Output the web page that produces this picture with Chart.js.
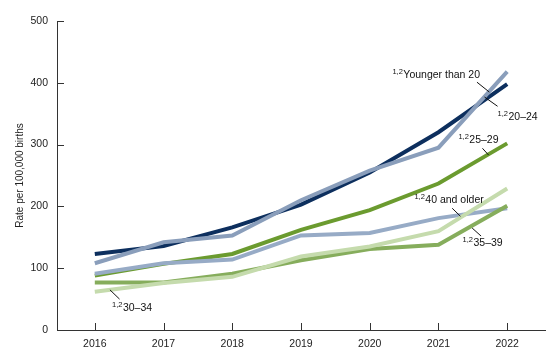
<!DOCTYPE html>
<html>
<head>
<meta charset="utf-8">
<script src="https://cdn.jsdelivr.net/npm/chart.js@4"></script>
<style>
  html, body { margin: 0; padding: 0; background: #fff; }
  #wrap { width: 560px; height: 362px; }
</style>
</head>
<body>
<div id="wrap"><canvas id="chart"></canvas></div>
<script>
const years = [2016, 2017, 2018, 2019, 2020, 2021, 2022];
const yTicks = [0, 100, 200, 300, 400, 500];

const under20 = [108, 142, 153, 210, 258, 295, 418];
const age20to24 = [123, 136, 166, 203, 255, 320, 398];
const age25to29 = [88, 107, 123, 162, 194, 237, 302];
const age30to34 = [62, 76, 86, 119, 135, 160, 229];
const age35to39 = [77, 77, 91, 113, 131, 138, 201];
const age40plus = [91, 108, 114, 153, 157, 181, 197];

// label anchors in data units (year, rate)
const notes = [
  { text: 'Younger than 20', x: 2020.33, y: 412, line: [2021.56, 401, 2021.74, 385] },
  { text: '20\u201324', x: 2021.86, y: 345, line: [2021.67, 377, 2021.86, 362] },
  { text: '25\u201329', x: 2021.29, y: 307, line: [2021.64, 294, 2021.73, 283] },
  { text: '40 and older', x: 2020.65, y: 210, line: [2021.20, 197, 2021.32, 184] },
  { text: '35\u201339', x: 2021.35, y: 141, line: [2021.49, 165, 2021.62, 152] },
  { text: '30\u201334', x: 2016.25, y: 36, line: [2016.22, 65, 2016.36, 50] }
];

const font = 'Arial, "Liberation Sans", sans-serif';

function series(label, data, color) {
  return {
    label: label,
    data: data.map((v, i) => ({ x: years[i], y: v })),
    borderColor: color,
    backgroundColor: color,
    borderWidth: 4,
    pointRadius: 0,
    tension: 0,
    fill: false
  };
}

const extras = {
  id: 'extras',
  afterDraw(chart) {
    const ctx = chart.ctx;
    const xs = chart.scales.x, ys = chart.scales.y;
    const area = chart.chartArea;
    ctx.save();
    // inward tick marks
    ctx.strokeStyle = '#333';
    ctx.lineWidth = 1;
    ctx.beginPath();
    years.forEach(yr => {
      const px = Math.round(xs.getPixelForValue(yr)) + 0.5;
      ctx.moveTo(px, area.bottom);
      ctx.lineTo(px, area.bottom - 7);
    });
    yTicks.forEach(v => {
      const py = Math.round(ys.getPixelForValue(v)) + 0.5;
      ctx.moveTo(area.left, py);
      ctx.lineTo(area.left + 7, py);
    });
    ctx.stroke();

    // labels with superscripts and leader lines
    ctx.fillStyle = '#111';
    ctx.strokeStyle = '#111';
    notes.forEach(n => {
      const px = xs.getPixelForValue(n.x);
      const py = ys.getPixelForValue(n.y);
      ctx.font = '7.5px ' + font;
      ctx.textBaseline = 'middle';
      ctx.textAlign = 'left';
      ctx.fillText('1,2', px, py - 3);
      const w = ctx.measureText('1,2').width;
      ctx.font = '10.5px ' + font;
      ctx.fillText(n.text, px + w + 0.5, py);
      ctx.beginPath();
      ctx.moveTo(xs.getPixelForValue(n.line[0]), ys.getPixelForValue(n.line[1]));
      ctx.lineTo(xs.getPixelForValue(n.line[2]), ys.getPixelForValue(n.line[3]));
      ctx.stroke();
    });
    ctx.restore();
  }
};

new Chart(document.getElementById('chart'), {
  type: 'line',
  data: {
    datasets: [
      series('Younger than 20', under20, '#8a9ebb'),
      series('20\u201324', age20to24, '#0d2f5e'),
      series('30\u201334', age30to34, '#c5dbad'),
      series('35\u201339', age35to39, '#86ad5c'),
      series('40 and older', age40plus, '#97abc6'),
      series('25\u201329', age25to29, '#6b9b2f')
    ]
  },
  options: {
    responsive: true,
    maintainAspectRatio: false,
    animation: false,
    layout: { padding: { left: 0, right: 15, top: 21, bottom: 0 } },
    plugins: {
      legend: { display: false },
      tooltip: { enabled: false }
    },
    scales: {
      x: {
        type: 'linear',
        min: 2015.45,
        max: 2022.55,
        afterBuildTicks: s => { s.ticks = years.map(v => ({ value: v })); },
        afterFit: s => { s.height = 32; },
        grid: { display: false, drawTicks: false },
        border: { display: true, color: '#333', width: 1 },
        ticks: {
          padding: 8,
          color: '#222',
          font: { family: font, size: 10.5 },
          callback: v => String(v),
          maxRotation: 0,
          autoSkip: false
        }
      },
      y: {
        min: 0,
        max: 500,
        afterBuildTicks: s => { s.ticks = yTicks.map(v => ({ value: v })); },
        afterFit: s => { s.width = 57; },
        grid: { display: false, drawTicks: false },
        border: { display: true, color: '#333', width: 1 },
        ticks: {
          padding: 9,
          color: '#222',
          font: { family: font, size: 10.5 }
        },
        title: {
          display: true,
          text: 'Rate per 100,000 births',
          color: '#222',
          font: { family: font, size: 10 },
          padding: { top: 14, bottom: 0 }
        }
      }
    }
  },
  plugins: [extras]
});
</script>
</body>
</html>
